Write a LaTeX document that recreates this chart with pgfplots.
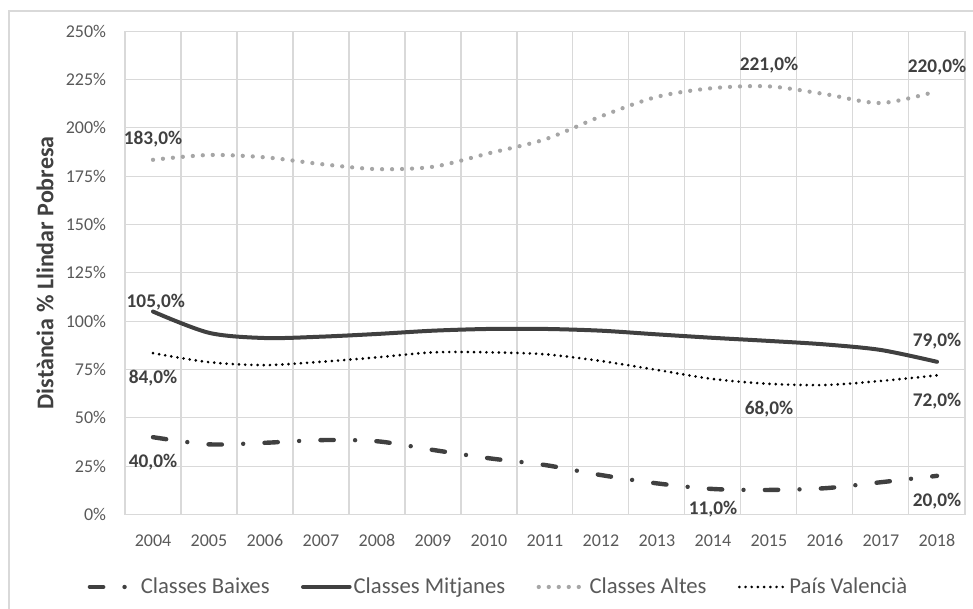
\documentclass[border=0pt]{standalone}
\usepackage{pgfplots}
\pgfplotsset{compat=1.18}
\usepackage{fontspec}
\setmainfont{Carlito}

\definecolor{gridc}{HTML}{D9D9D9}
\definecolor{tickc}{HTML}{595959}
\definecolor{darkc}{HTML}{404040}
\definecolor{altesc}{HTML}{A6A6A6}

\begin{document}
\begin{tikzpicture}[x=1pt,y=1pt]
  \path[use as bounding box] (0,0) rectangle (729.75,456.75);
  \draw[gridc, line width=0.8pt] (6.75,0) -- (6.75,448.5) -- (729.75,448.5);

  \begin{axis}[
    at={(93.75pt,70.875pt)}, anchor=south west,
    scale only axis, width=630pt, height=362.4pt,
    xmin=2003.5, xmax=2018.5,
    ymin=0, ymax=250,
    xtick={2004,...,2018},
    minor xtick={2003.5,2004.5,...,2018.5},
    ytick={0,25,...,250},
    yticklabels={0\%,25\%,50\%,75\%,100\%,125\%,150\%,175\%,200\%,225\%,250\%},
    /pgf/number format/1000 sep={},
    /pgf/number format/assume math mode=true,
    ymajorgrids, xminorgrids,
    grid style={gridc, line width=0.8pt},
    minor grid style={gridc, line width=0.8pt},
    axis line style={gridc, line width=0.8pt},
    major tick length=0pt, minor tick length=0pt,
    tick style={draw=none},
    xticklabel style={font=\fontsize{13.5}{16}\selectfont, text=tickc, inner sep=0pt,
      text height=9pt, text depth=0pt, anchor=north, yshift=-15pt},
    yticklabel style={font=\fontsize{13.5}{16}\selectfont, text=tickc, inner sep=0pt,
      text height=9pt, text depth=0pt, anchor=east, xshift=-14pt},
    ylabel={\textbf{Distància \% Llindar Pobresa}},
    every axis y label/.style={at={(axis description cs:-0.0952,0.5)}, rotate=90, anchor=center,
      font=\fontsize{18}{21}\selectfont, text=darkc},
    clip=false,
    legend columns=4,
    legend cell align=left,
    legend image code/.code={\draw[#1] (0pt,0pt) -- (35pt,0pt);},
    legend style={at={(0.4446,-0.150)}, anchor=center, draw=none, fill=none,
      font=\fontsize{17}{20}\selectfont, text=tickc, inner sep=0pt,
      nodes={inner sep=1.5pt},
      /tikz/every even column/.append style={column sep=22pt}},
  ]

  % Classes Baixes
  \addplot[darkc, line width=3.3pt, line cap=round, smooth,
    dash pattern=on 10pt off 16pt on 0pt off 16pt]
  coordinates {
    (2004,40) (2005,36.3) (2006,37.1) (2007,38.5) (2008,37.9)
    (2009,33.4) (2010,29.1) (2011,25.6) (2012,20.4) (2013,16.1)
    (2014,13.2) (2015,12.7) (2016,13.6) (2017,16.7) (2018,20)
  };

  % Classes Mitjanes
  \addplot[darkc, line width=3pt, line cap=round, smooth]
  coordinates {
    (2004,105) (2005,94.0) (2006,91.3) (2007,92.0) (2008,93.4)
    (2009,95.1) (2010,96.0) (2011,96.0) (2012,95.1) (2013,93.2)
    (2014,91.4) (2015,89.8) (2016,88.0) (2017,85.1) (2018,79)
  };

  % Classes Altes
  \addplot[altesc, line width=3.2pt, line cap=round, smooth,
    dash pattern=on 0pt off 7.5pt]
  coordinates {
    (2004,183.5) (2005,186.0) (2006,184.8) (2007,181.3) (2008,178.7)
    (2009,179.9) (2010,186.9) (2011,194.1) (2012,206.0) (2013,216.1)
    (2014,220.6) (2015,221.5) (2016,217.5) (2017,212.9) (2018,219)
  };

  % Pais Valencia
  \addplot[black, line width=2.2pt, line cap=round, smooth,
    dash pattern=on 0pt off 4.65pt]
  coordinates {
    (2004,83.5) (2005,78.8) (2006,77.3) (2007,79.0) (2008,81.3)
    (2009,83.9) (2010,83.9) (2011,82.9) (2012,79.4) (2013,74.8)
    (2014,70.1) (2015,67.6) (2016,67.0) (2017,69.1) (2018,72)
  };

  \legend{Classes Baixes, Classes Mitjanes, Classes Altes, País Valencià}

  % data labels
  \tikzset{lbl/.style={font=\fontsize{14.5}{17}\selectfont\bfseries, text=darkc, inner sep=0pt, anchor=center}}
  \node[lbl] at (axis cs:2004,194.3) {183,0\%};
  \node[lbl] at (axis cs:2004.05,109.9) {105,0\%};
  \node[lbl] at (axis cs:2004,70.8) {84,0\%};
  \node[lbl] at (axis cs:2004,26.9) {40,0\%};
  \node[lbl] at (axis cs:2015,232.5) {221,0\%};
  \node[lbl] at (axis cs:2018,231.5) {220,0\%};
  \node[lbl] at (axis cs:2018,89.8) {79,0\%};
  \node[lbl] at (axis cs:2018,58.7) {72,0\%};
  \node[lbl] at (axis cs:2015,54.6) {68,0\%};
  \node[lbl] at (axis cs:2014,2.8) {11,0\%};
  \node[lbl] at (axis cs:2018,7.0) {20,0\%};
  \end{axis}
\end{tikzpicture}
\end{document}
